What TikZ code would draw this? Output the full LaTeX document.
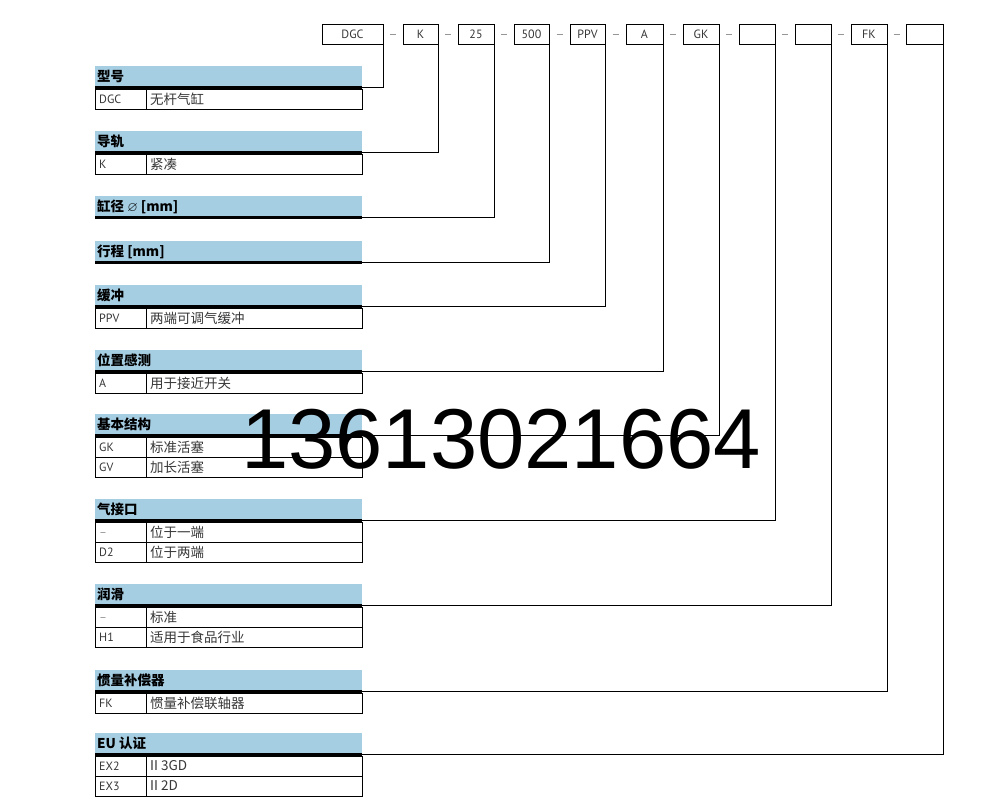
\documentclass[tikz,border=0pt]{standalone}
\usepackage{amssymb}
\usepackage{fontspec}
\setmainfont{PT Sans}
\newfontfamily\cjk{Noto Sans CJK SC}
\newfontfamily\wmfont{Liberation Sans}
\definecolor{dgcblue}{RGB}{166,206,227}
\definecolor{dgctext}{RGB}{55,55,55}
\definecolor{dgcdash}{RGB}{150,150,150}

\begin{document}
\begin{tikzpicture}[x=1pt,y=-1pt,
  codebox/.style={draw,thin,minimum height=20pt,inner sep=0pt,text=dgctext,font=\fontsize{12}{12}\selectfont},
  headtext/.style={anchor=west,inner sep=0pt,font=\cjk\bfseries\fontsize{13.5}{13.5}\selectfont},
  codetext/.style={anchor=base west,inner sep=0pt,text=dgctext,font=\fontsize{12}{12}\selectfont},
  desctext/.style={anchor=west,inner sep=0pt,text=dgctext,font=\cjk\fontsize{13.5}{13.5}\selectfont}]
  \useasboundingbox (0,0) rectangle (996,800);
  % order code boxes on top
  \foreach \n/\l/\r/\t in {1/322/383/DGC,2/403/438/K,3/458/494/25,4/514/549/500,5/570/605/PPV,
      6/626/663/A,7/683/719/GK,8/739/775/,9/795/831/,10/851/887/FK,11/906/943/}
    \node[codebox,minimum width=\r pt-\l pt] (b\n) at ({(\l+\r)/2},34) {\t};
  \foreach \a [count=\b from 2] in {1,...,10} {
    \path (b\a.east) -- (b\b.west) coordinate[midway] (s\a);
    \draw[dgcdash,semithick] ([xshift=-3pt]s\a) -- ([xshift=3pt]s\a);
  }
  % table headers
  \foreach \y/\t [count=\n] in {66/型号,131/导轨,196/缸径 \(\varnothing\) [mm],241/行程 [mm],285/缓冲,
      350/位置感测,414/基本结构,499/气接口,584/润滑,670/惯量补偿器,733/EU 认证} {
    \fill[dgcblue] (95,\y) rectangle (362,{\y+20});
    \fill (95,{\y+20}) rectangle (362,{\y+23});
    \node[headtext] (h\n) at (97,{\y+10.5}) {\t};
    \coordinate (t\n) at (362,{\y+21.5});
  }
  % table rows
  \foreach \y/\c/\d in {89/DGC/无杆气缸,154/K/紧凑,308/PPV/两端可调气缓冲,373/A/用于接近开关,
      437/GK/标准活塞,457/GV/加长活塞,522/\textcolor{dgcdash}{--}/位于一端,542/D2/位于两端,
      607/\textcolor{dgcdash}{--}/标准,627/H1/适用于食品行业,693/FK/惯量补偿联轴器,
      756/EX2/II 3GD,776/EX3/II 2D} {
    \draw[thin] (95,\y) rectangle (362,{\y+20});
    \draw[thin] (146,\y) -- (146,{\y+20});
    \node[codetext] (c\y) at (99,{\y+14.5}) {\c};
    \node[desctext] (d\y) at (150,{\y+10}) {\d};
  }
  % connectors
  \foreach \n in {1,...,11}
    \draw[thin] (b\n.south east) |- (t\n);
  \node[font=\wmfont\fontsize{85}{85}\selectfont,inner sep=0pt] (phone) at (501,439) {13613021664};
\end{tikzpicture}
\end{document}
